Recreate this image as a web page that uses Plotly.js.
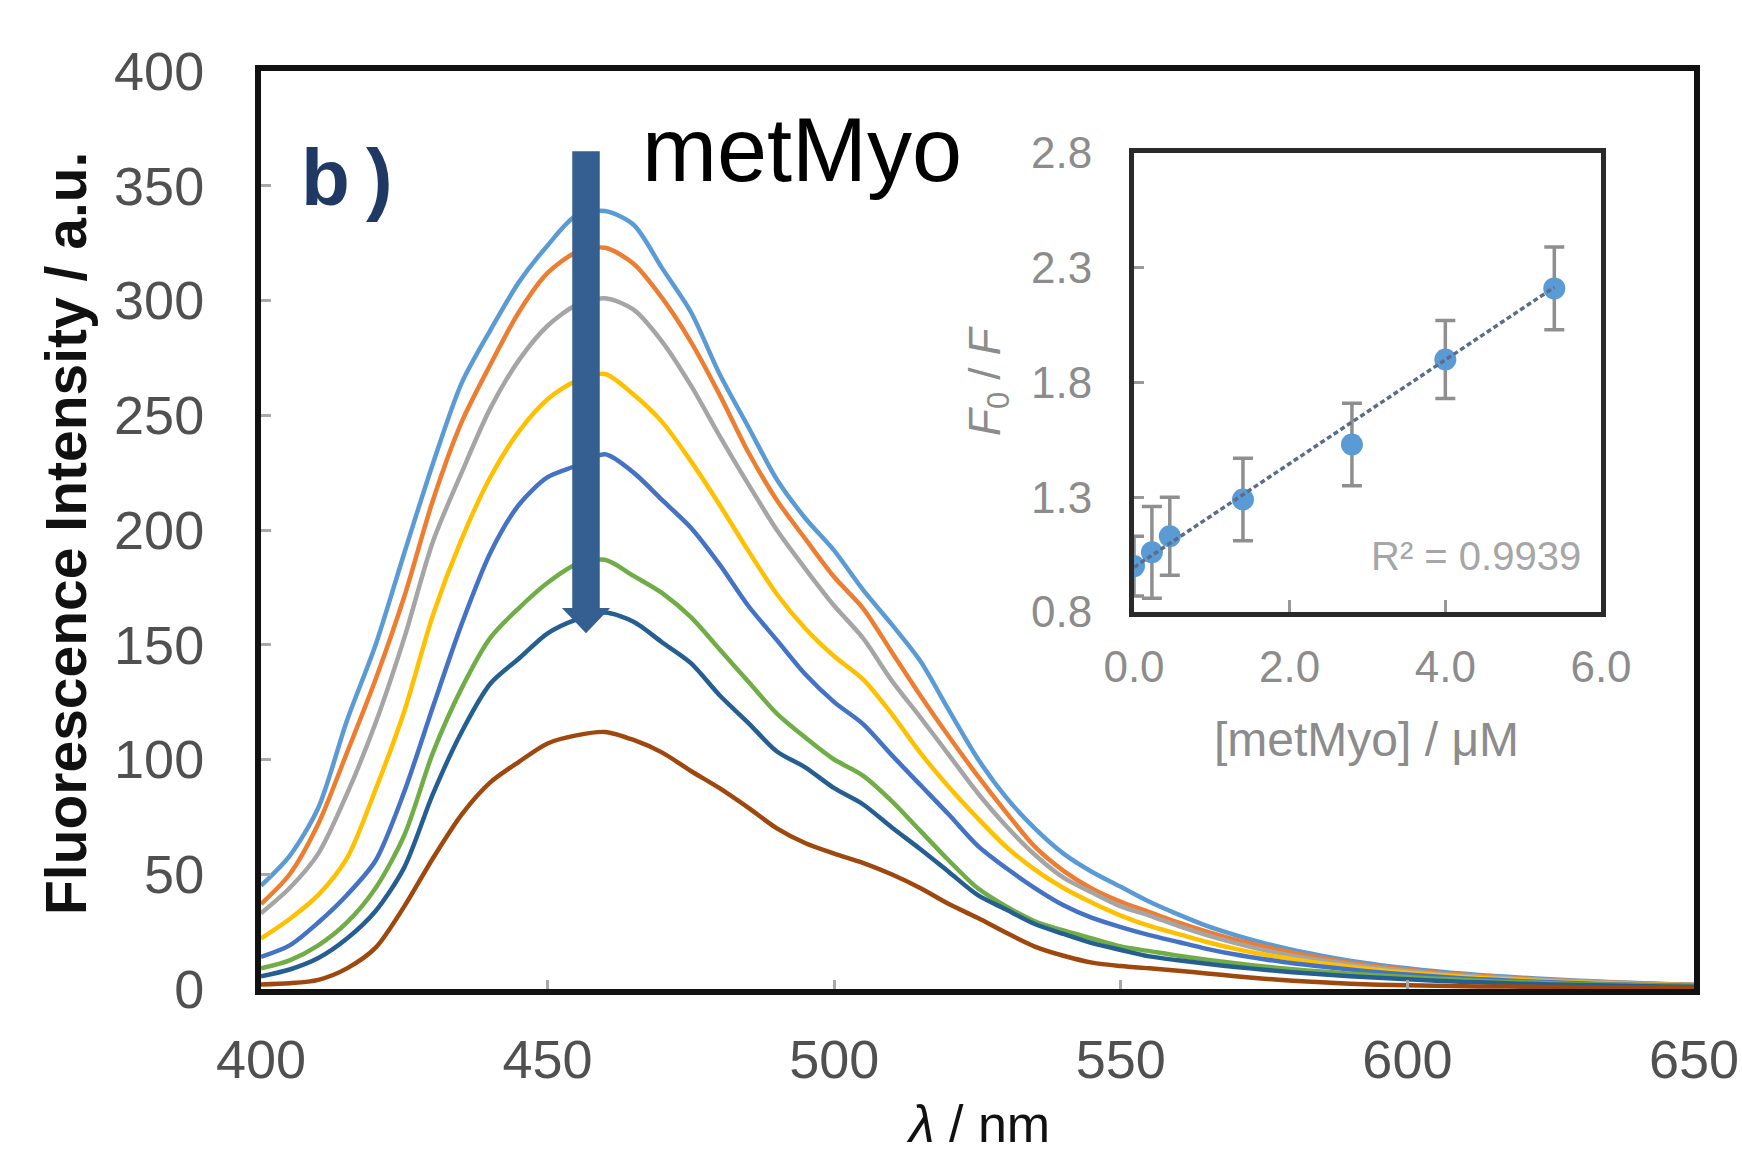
<!DOCTYPE html>
<html><head><meta charset="utf-8">
<script src="https://cdn.plot.ly/plotly-3.0.1.min.js"></script>
<style>html,body{margin:0;padding:0;background:#fff}#chart{width:1742px;height:1161px}</style>
</head><body><div id="chart"></div>
<script>
// ---------- main spectra data ----------
const wavelength = [400,405,410,415,420,425,430,435,440,445,450,455,460,465,470,475,480,485,490,495,500,505,510,515,520,525,530,535,540,545,550,555,560,565,570,575,580,585,590,595,600,605,610,615,620,625,630,635,640,645,650];

const spec1 = [45,58,79,117,150,190,229,264,287,308,324,337,339,333,314,295,268,245,222,205,191,174,159,143,121.5,100.5,83.5,70,59,51,44.5,38,32.5,27.5,23.5,20,17,14.5,12.3,10.5,9,7.7,6.6,5.7,4.9,4.2,3.6,3.1,2.6,2.2,1.9];
const spec2 = [37,50,72,103,135,171,213,247,272,295,312,321,323,316,301,282,259,234,213,196,179.5,166,147,128,110,93,77,62,51.5,43.7,38,33.5,29,25,21.5,18.5,15.8,13.5,11.5,9.8,8.4,7.2,6.2,5.3,4.6,3.9,3.4,2.9,2.5,2.1,1.8];
const spec3 = [33,44,59,85,116,153,195,225,253,274,289,298,301,296,282,263,241,220,200,183,167,153,134.5,118.5,102,85.5,71,58.5,48.5,42,36,32,27.5,23.5,20,17,14.5,12.5,10.7,9.2,7.9,6.7,5.8,5,4.3,3.7,3.2,2.7,2.3,2,1.7];
const spec4 = [22,30.5,41,57,87,121,163,196,223,243,257,265,268,259,247,230,211,191,172,157,145,135,120,103,88,74.5,62,52,44,37.6,32,27.5,24,20.5,17.5,15,13,11.2,9.7,8.3,7.1,6.1,5.2,4.5,3.9,3.3,2.8,2.4,2.1,1.8,1.5];
const spec5 = [14,19,29,41,56,86,123,159,190,211,223,228,233,225,213,201,185,167,152,137,125,115.5,102,89,76,62.5,52.7,44,36.5,31,27,23.5,20.5,17.5,15,13,11.2,9.8,8.5,7.3,6.3,5.4,4.6,4,3.4,2.9,2.5,2.1,1.8,1.6,1.4];
const spec6 = [9,12.5,19,29,44,67,103,131,153,166,177,185,187,180,172.5,162,148,134,120,109.5,100,93,82,69,56,44,36,29.5,25.5,22,18.5,16.5,14.5,12.8,11.2,9.8,8.6,7.6,6.7,5.9,5.2,4.5,3.9,3.3,2.9,2.5,2.1,1.8,1.6,1.4,1.2];
const spec7 = [5.5,8.5,13.5,22,34,53,85,112,133,144,155,161,164,160,151,142,128,116,103.5,96.5,87.5,80.5,70.5,61,51,41,34.6,28.3,24,20,17,14.2,12.5,11,9.6,8.4,7.3,6.4,5.6,4.9,4.2,3.6,3.1,2.7,2.3,2,1.7,1.5,1.3,1.1,1];
const spec8 = [2,2.5,4,9,18,36,57,76,90,99,107,110.5,112,108.5,103,95,87.5,79,70,63.5,59,55,50,44,37,31,24.5,18.5,14.5,11.5,10,9,8,6.8,5.6,4.5,3.6,2.9,2.3,1.9,1.6,1.4,1.2,1.1,1,0.9,0.8,0.7,0.6,0.6,0.5];

const spectra = [spec1, spec2, spec3, spec4, spec5, spec6, spec7, spec8];
const spectraColors = ['#5B9BD5','#ED7D31','#A5A5A5','#FFC000','#4472C4','#70AD47','#255E91','#9E480E'];

const xTicks = [400,450,500,550,600,650];
const yTicks = [0,50,100,150,200,250,300,350,400];

// ---------- inset (Stern-Volmer) data ----------
const conc = [0, 0.23, 0.46, 1.4, 2.8, 4.0, 5.4];
const f0f = [1.0, 1.06, 1.13, 1.29, 1.53, 1.9, 2.21];
const f0fErr = [0.13, 0.2, 0.17, 0.18, 0.18, 0.17, 0.18];
const trendX = [0, 5.4];
const trendY = [0.995, 2.215];
const insetXTicks = [0, 2, 4, 6];
const insetYTicks = [0.8, 1.3, 1.8, 2.3, 2.8];

// ---------- arrow (decoration, data units) ----------
const arrowX = 456.7, arrowTop = 365, arrowBase = 166, arrowTip = 155;

const FONT = 'Liberation Sans, Arial, sans-serif';

const traces = spectra.map((s, i) => ({
  type: 'scatter', mode: 'lines', x: wavelength, y: s,
  line: {color: spectraColors[i], width: 4.5, shape: 'spline', smoothing: 0.8},
  xaxis: 'x', yaxis: 'y', hoverinfo: 'skip'
}));

traces.push({
  type: 'scatter', mode: 'markers', x: conc, y: f0f,
  marker: {color: '#5B9BD5', size: 22},
  error_y: {type: 'data', array: f0fErr, visible: true, color: '#8f8f8f', thickness: 3.5, width: 10},
  xaxis: 'x2', yaxis: 'y2', hoverinfo: 'skip'
});
traces.push({
  type: 'scatter', mode: 'lines', x: trendX, y: trendY,
  line: {color: '#5a6d8a', width: 3.5, dash: '5px,3px'},
  xaxis: 'x2', yaxis: 'y2', hoverinfo: 'skip'
});

const W = 1742, H = 1161;
const L = 261, R = 1694, T = 71, B = 989;
const px = (x) => (x - L) / (R - L);
const py = (y) => (B - y) / (B - T);

const layout = {
  width: W, height: H,
  margin: {l: L, r: W - R, t: T, b: H - B, pad: 0},
  paper_bgcolor: '#fff', plot_bgcolor: '#fff',
  showlegend: false,
  font: {family: FONT},
  xaxis: {
    range: [400, 650], tickvals: xTicks, ticks: 'inside', ticklen: 9, tickwidth: 3, tickcolor: '#a8a8a8',
    showline: true, linecolor: '#111', linewidth: 6, mirror: true, showgrid: false, zeroline: false,
    tickfont: {size: 54, color: '#505050', family: FONT}, ticklabelstandoff: 18, fixedrange: true
  },
  yaxis: {
    range: [0, 400], tickvals: yTicks, ticks: 'inside', ticklen: 10, tickwidth: 3, tickcolor: '#a8a8a8',
    showline: true, linecolor: '#111', linewidth: 6, mirror: true, showgrid: false, zeroline: false,
    tickfont: {size: 54, color: '#505050', family: FONT}, ticklabelstandoff: 40, fixedrange: true
  },
  xaxis2: {
    domain: [px(1134), px(1601)], anchor: 'y2', range: [0, 6], tickvals: insetXTicks, tickformat: '.1f',
    ticks: 'inside', ticklen: 12, tickwidth: 3, tickcolor: '#999',
    showline: true, linecolor: '#2a2a2a', linewidth: 5, mirror: true, showgrid: false, zeroline: false,
    tickfont: {size: 44, color: '#8c8c8c', family: FONT}, ticklabelstandoff: 12
  },
  yaxis2: {
    domain: [py(612), py(153)], anchor: 'x2', range: [0.8, 2.8], tickvals: insetYTicks, tickformat: '.1f',
    ticks: 'inside', ticklen: 10, tickwidth: 3, tickcolor: '#999',
    showline: true, linecolor: '#2a2a2a', linewidth: 5, mirror: true, showgrid: false, zeroline: false,
    tickfont: {size: 44, color: '#8c8c8c', family: FONT}, ticklabelstandoff: 28
  },
  shapes: [
    {type: 'rect', xref: 'x', yref: 'y', x0: arrowX - 2.4, x1: arrowX + 2.4, y0: arrowBase, y1: arrowTop,
     fillcolor: '#365f91', line: {width: 0}, layer: 'above'},
    {type: 'path', xref: 'x', yref: 'y',
     path: `M ${arrowX - 4.2} ${arrowBase} L ${arrowX + 4.2} ${arrowBase} L ${arrowX} ${arrowTip} Z`,
     fillcolor: '#365f91', line: {width: 0}, layer: 'above'}
  ],
  annotations: [
    {text: 'Fluorescence Intensity / a.u.', xref: 'paper', yref: 'paper', x: px(66), y: py(534),
     xanchor: 'center', yanchor: 'middle', textangle: -90, showarrow: false,
     font: {size: 57, color: '#111', family: FONT, weight: 'bold'}},
    {text: '<i>λ</i> / nm', xref: 'paper', yref: 'paper', x: 0.5, y: py(1124),
     xanchor: 'center', yanchor: 'middle', showarrow: false,
     font: {size: 52, color: '#111', family: FONT}},
    {text: '<b>b\u2009)</b>', xref: 'paper', yref: 'paper', x: px(347), y: py(178),
     xanchor: 'center', yanchor: 'middle', showarrow: false,
     font: {size: 80, color: '#1f3864', family: FONT}},
    {text: 'metMyo', xref: 'paper', yref: 'paper', x: px(802), y: py(150),
     xanchor: 'center', yanchor: 'middle', showarrow: false,
     font: {size: 90, color: '#000', family: FONT}},
    {text: '<i>F</i><sub>0</sub> / <i>F</i>', xref: 'paper', yref: 'paper', x: px(988), y: py(381),
     xanchor: 'center', yanchor: 'middle', textangle: -90, showarrow: false,
     font: {size: 44, color: '#8c8c8c', family: FONT}},
    {text: '[metMyo] / μM', xref: 'paper', yref: 'paper', x: px(1366), y: py(739),
     xanchor: 'center', yanchor: 'middle', showarrow: false,
     font: {size: 48, color: '#8c8c8c', family: FONT}},
    {text: 'R² = 0.9939', xref: 'paper', yref: 'paper', x: px(1476), y: py(556),
     xanchor: 'center', yanchor: 'middle', showarrow: false,
     font: {size: 40, color: '#a6a6a6', family: FONT}}
  ]
};

Plotly.newPlot('chart', traces, layout, {staticPlot: true, displayModeBar: false});
</script>
</body></html>
